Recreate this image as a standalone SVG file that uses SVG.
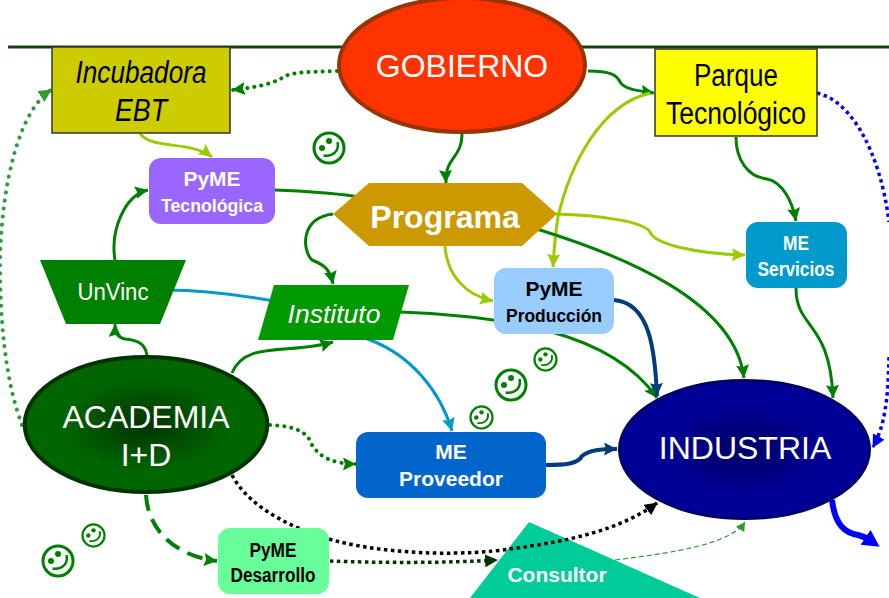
<svg xmlns="http://www.w3.org/2000/svg" xmlns:xlink="http://www.w3.org/1999/xlink" width="889" height="598" viewBox="0 0 889 598">
<style>
text{font-family:"Liberation Sans",Arial,sans-serif;text-anchor:middle}
.b{font-weight:bold}.i{font-style:italic}.w{fill:#fff}.k{fill:#000}
.c{fill:none;stroke-width:3}
.g{stroke:#008000}.l{stroke:#99CC00}.n{stroke:#003C78;stroke-width:4}.y{stroke:#0099CC}
.dot{stroke-dasharray:0.1 7;stroke-linecap:round;stroke-width:4}
.sq{stroke-dasharray:3.500 3.500;stroke-width:3.500}
</style>
<defs>
<marker id="ag" markerUnits="userSpaceOnUse" markerWidth="15" markerHeight="15" refX="13" refY="6.500" orient="auto"><path d="M0 0L13 6.500L0 13L2 6.500Z" fill="#008000"/></marker>
<marker id="al" markerUnits="userSpaceOnUse" markerWidth="15" markerHeight="15" refX="13" refY="6.500" orient="auto"><path d="M0 0L13 6.500L0 13L2 6.500Z" fill="#99CC00"/></marker>
<marker id="an" markerUnits="userSpaceOnUse" markerWidth="15" markerHeight="15" refX="13" refY="6.500" orient="auto"><path d="M0 0L13 6.500L0 13L2 6.500Z" fill="#003C78"/></marker>
<marker id="ay" markerUnits="userSpaceOnUse" markerWidth="15" markerHeight="15" refX="13" refY="6.500" orient="auto"><path d="M0 0L13 6.500L0 13L2 6.500Z" fill="#0099CC"/></marker>
<marker id="am" markerUnits="userSpaceOnUse" markerWidth="15" markerHeight="15" refX="12" refY="6.500" orient="auto"><path d="M0 0L13 6.500L0 13Z" fill="#339933"/></marker>
<marker id="ak" markerUnits="userSpaceOnUse" markerWidth="15" markerHeight="15" refX="12" refY="6.500" orient="auto"><path d="M0 0L13 6.500L0 13Z" fill="#000"/></marker>
<marker id="akg" markerUnits="userSpaceOnUse" markerWidth="15" markerHeight="15" refX="12" refY="6.500" orient="auto"><path d="M0 0L13 6.500L0 13Z" fill="#003300"/></marker>
<marker id="ab" markerUnits="userSpaceOnUse" markerWidth="15" markerHeight="15" refX="12" refY="6.500" orient="auto"><path d="M0 0L13 6.500L0 13Z" fill="#0000FF"/></marker>
<marker id="abb" markerUnits="userSpaceOnUse" markerWidth="20" markerHeight="20" refX="3" refY="9" orient="auto"><path d="M0 0L17 9L0 18Z" fill="#0000FF"/></marker>
<marker id="at" markerUnits="userSpaceOnUse" markerWidth="12" markerHeight="12" refX="9" refY="5" orient="auto"><path d="M0 0L9 5L0 10Z" fill="#339933"/></marker>
<radialGradient id="ga"><stop offset="0" stop-color="#003300"/><stop offset="0.7" stop-color="#006600"/></radialGradient>
<radialGradient id="gi"><stop offset="0" stop-color="#000066"/><stop offset="0.7" stop-color="#000099"/></radialGradient>
<symbol id="smile" viewBox="0 0 34 34" overflow="visible">
<circle cx="17" cy="17" r="15" fill="#fff" stroke="#008000" stroke-width="3"/>
<circle cx="10" cy="17" r="3" fill="#008000"/><circle cx="17" cy="10" r="3" fill="#008000"/>
<path d="M25.500 11C27.500 20 21 26 11.500 24.500" fill="none" stroke="#008000" stroke-width="2.500"/>
</symbol>
</defs>
<line x1="8" y1="47" x2="889" y2="47" stroke="#1A3D1A" stroke-width="3"/>
<g id="consultor"><path d="M529 522L700 598L470 598Z" fill="#00CC99"/><text class="b w" x="557" y="582" font-size="21">Consultor</text></g>
<g id="connectors">
<path class="c g dot" d="M337 71C305 72 290 72 282 78C270 85 250 88 232 90" marker-end="url(#ag)"/>
<path class="c g" d="M588 71C610 71 617 75 620 82C625 90 640 91 654 93" marker-end="url(#ag)"/>
<path class="c l" d="M650 93C600 105 570 165 558 217C555 235 554 250 553 267" marker-end="url(#al)"/>
<path class="c l" d="M140 133C150 150 190 140 212 157" marker-end="url(#al)"/>
<path class="c g" d="M115 260C110 230 125 195 148 190" marker-end="url(#ag)"/>
<path class="c g" d="M147 355C145 342 135 340 125 339C118 338 115 332 115 324" marker-end="url(#ag)"/>
<path class="c g" d="M232 373C245 340 290 355 333 342" marker-end="url(#ag)"/>
<path class="c g" d="M462 133C462 160 445 155 446 183" marker-end="url(#ag)"/>
<path class="c g" d="M333 214C300 218 302 250 312 260C325 265 330 270 333 284" marker-end="url(#ag)"/>
<path class="c l" d="M445 246C447 275 465 295 493 301" marker-end="url(#al)"/>
<path class="c l" d="M556 214C600 215 645 222 650 232C655 245 700 254 745 255" marker-end="url(#al)"/>
<path class="c g" d="M736 137C736 160 748 177 767 179C782 182 792 200 796 221" marker-end="url(#ag)"/>
<path class="c g" d="M275 190C330 192 345 195 360 197L540 230C620 255 735 300 744 378" marker-end="url(#ag)"/>
<path class="c g" d="M400 312C500 316 610 330 657 398" marker-end="url(#ag)"/>
<path class="c g" d="M796 288C796 330 830 320 833 398" marker-end="url(#ag)"/>
<path class="c y" d="M168 290C200 290 240 295 280 302L370 340C410 355 440 390 452 431" marker-end="url(#ay)"/>
<path class="c n" d="M614 300C650 303 655 350 657 396" marker-end="url(#an)"/>
<path class="c n" d="M546 465C565 465 578 464 582 456C590 450 600 449 617 449" marker-end="url(#an)"/>
<path class="c dot" style="stroke:#2E9A3A;stroke-dasharray:0.1 8" d="M22 425C5 380 0 320 0 260C2 180 20 110 51 90" marker-end="url(#am)"/>
<path class="c g dot" d="M270 425C295 426 308 432 312 445C320 458 335 464 356 464" marker-end="url(#ag)"/>
<path class="c g" stroke-dasharray="16 9" style="stroke-width:4" d="M146 495C148 530 175 556 217 561" marker-end="url(#ag)"/>
<path class="c sq" stroke="#000" d="M232 475C250 510 300 532 340 542C400 556 470 555 510 549C570 541 620 530 657 503" marker-end="url(#ak)"/>
<path class="c sq" stroke="#003300" d="M330 561C380 563 450 563 497 560" marker-end="url(#akg)"/>
<path fill="none" stroke="#339933" stroke-width="1.200" stroke-dasharray="5 3" d="M615 560C670 553 730 545 745 522" marker-end="url(#at)"/>
<path class="c sq" stroke="#0000FF" d="M817 93C850 100 880 150 889 222M889 357C888 400 885 425 873 447" marker-end="url(#ab)"/>
<path fill="none" stroke="#0000FF" stroke-width="6" d="M832 500C835 525 845 533 858 535C862 536 865 537 868 539" marker-end="url(#abb)"/>
</g>
<g id="gobierno"><ellipse cx="462" cy="65" rx="123" ry="67" fill="#FF3300" stroke="#993300" stroke-width="4"/><text class="w" x="462" y="77" font-size="32">GOBIERNO</text></g>
<g id="incubadora"><rect x="52" y="47" width="178" height="86" fill="#CCCC00" stroke="#333" stroke-width="1.500"/><text class="i k" x="141" y="83" font-size="31" textLength="131" lengthAdjust="spacingAndGlyphs">Incubadora</text><text class="i k" x="141" y="121" font-size="31" textLength="52" lengthAdjust="spacingAndGlyphs">EBT</text></g>
<g id="parque"><rect x="655" y="49" width="162" height="87" fill="#FFFF00" stroke="#333" stroke-width="1.500"/><text class="k" x="736" y="86" font-size="31" textLength="84" lengthAdjust="spacingAndGlyphs">Parque</text><text class="k" x="736" y="124" font-size="31" textLength="140" lengthAdjust="spacingAndGlyphs">Tecnológico</text></g>
<g id="pyme-tecnologica"><rect x="149" y="158" width="126" height="66" rx="12" fill="#9966FF"/><text class="b w" x="212" y="186" font-size="21">PyME</text><text class="b w" x="212" y="212" font-size="18.500" textLength="102" lengthAdjust="spacingAndGlyphs">Tecnológica</text></g>
<g id="programa"><path d="M333 214L369 183L522 183L557 214L522 246L369 246Z" fill="#CC9900"/><text class="b w" x="445" y="228" font-size="32">Programa</text></g>
<g id="unvinc"><path d="M40 260L186 260L160 324L66 324Z" fill="#008000"/><text class="w" x="113" y="300" font-size="23" textLength="71" lengthAdjust="spacingAndGlyphs">UnVinc</text></g>
<g id="instituto"><path d="M274 285L409 285L393 340L258 340Z" fill="#009900"/><text class="i w" x="334" y="323" font-size="26.500">Instituto</text></g>
<g id="pyme-produccion"><rect x="494" y="268" width="120" height="66" rx="12" fill="#99CCFF"/><text class="b k" x="554" y="296" font-size="21">PyME</text><text class="b k" x="554" y="322" font-size="18.500" textLength="96" lengthAdjust="spacingAndGlyphs">Producción</text></g>
<g id="me-servicios"><rect x="746" y="222" width="101" height="66" rx="12" fill="#0099CC"/><text class="b w" x="796" y="250" font-size="20" textLength="26" lengthAdjust="spacingAndGlyphs">ME</text><text class="b w" x="796" y="276" font-size="20" textLength="77" lengthAdjust="spacingAndGlyphs">Servicios</text></g>
<g id="academia"><ellipse cx="146" cy="424.500" rx="121.300" ry="67.500" fill="url(#ga)" stroke="#003300" stroke-width="4"/><text class="w" x="146" y="428" font-size="32">ACADEMIA</text><text class="w" x="146" y="466" font-size="32">I+D</text></g>
<g id="me-proveedor"><rect x="356" y="432" width="190" height="66" rx="12" fill="#0066CC"/><text class="b w" x="451" y="459" font-size="21">ME</text><text class="b w" x="451" y="486" font-size="21">Proveedor</text></g>
<g id="industria"><ellipse cx="744.500" cy="449.500" rx="125" ry="69" fill="url(#gi)" stroke="#000066" stroke-width="3"/><text class="w" x="745" y="459" font-size="32">INDUSTRIA</text></g>
<g id="pyme-desarrollo"><rect x="218" y="528" width="111" height="66" rx="12" fill="#66FF99"/><text class="b k" x="273" y="557" font-size="20" textLength="47" lengthAdjust="spacingAndGlyphs">PyME</text><text class="b k" x="273" y="582" font-size="20" textLength="85" lengthAdjust="spacingAndGlyphs">Desarrollo</text></g>
<use xlink:href="#smile" href="#smile" x="312" y="131" width="34" height="34"/>
<use xlink:href="#smile" href="#smile" x="533" y="347" width="25" height="25"/>
<use xlink:href="#smile" href="#smile" x="494" y="368" width="34" height="34"/>
<use xlink:href="#smile" href="#smile" x="469" y="405" width="25" height="25"/>
<use xlink:href="#smile" href="#smile" x="81" y="523" width="25" height="25"/>
<use xlink:href="#smile" href="#smile" x="41" y="544" width="34" height="34"/>
</svg>
